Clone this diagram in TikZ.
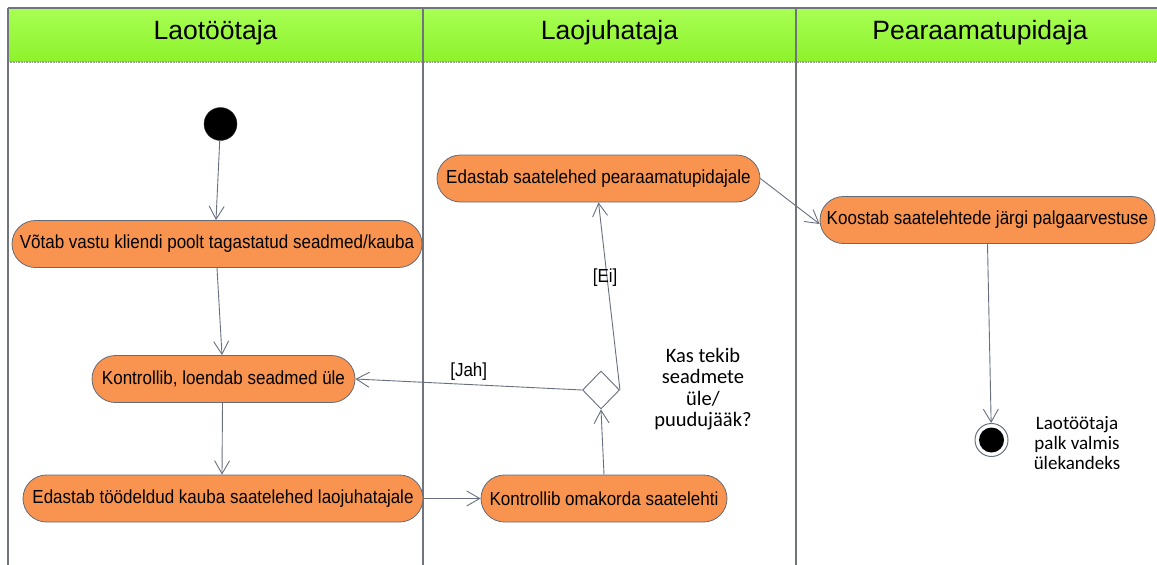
\documentclass[tikz,border=0pt]{standalone}
\usepackage{fontspec}
\setmainfont{Liberation Sans}
\newfontfamily\actfont{Liberation Sans}[FakeStretch=0.9]
\newfontfamily\notefont{Carlito}
\usetikzlibrary{arrows.meta,shapes.geometric}

\definecolor{hdrtop}{RGB}{168,255,84}
\definecolor{hdrbot}{RGB}{142,242,44}
\definecolor{lanegray}{RGB}{112,116,124}
\definecolor{actfill}{RGB}{248,148,79}
\definecolor{actborder}{RGB}{100,106,118}
\definecolor{flowgray}{RGB}{104,112,128}

\begin{document}
\begin{tikzpicture}[x=1pt,y=-1pt,
  act/.style={draw=actborder, line width=0.8pt, fill=actfill,
    rounded corners=23.5pt, minimum height=47pt, inner sep=0pt,
    font=\actfont\fontsize{18.9}{21}\selectfont},
  flow/.style={draw=flowgray, line width=0.9pt,
    -{Straight Barb[length=13pt,width=15pt]}},
  lanehead/.style={font=\fontsize{26.5}{30}\selectfont},
  guard/.style={font=\actfont\fontsize{18.9}{21}\selectfont, inner sep=1pt},
  note/.style={align=center, font=\notefont\fontsize{20.5}{21.5}\selectfont}]

\useasboundingbox (0,0) rectangle (1157,565);
\fill[white] (0,0) rectangle (1157,565);

% swimlane header band
\shade[top color=hdrtop, bottom color=hdrbot] (8,8) rectangle (1160,61);
\draw[lanegray, line width=1.2pt] (1160,8) -- (8,8);
\draw[gray!75, line width=2pt, dash pattern=on 1pt off 0.6pt] (8,62) -- (1160,62);

% lane borders
\draw[lanegray, line width=1.2pt] (8,8) -- (8,565);
\draw[lanegray, line width=1.2pt] (423,8) -- (423,565);
\draw[lanegray, line width=1.2pt] (796,8) -- (796,565);

% lane titles
\node[lanehead] (h1) at (215.5,33) {Laotöötaja};
\node[lanehead] (h2) at (609.5,33) {Laojuhataja};
\node[lanehead] (h3) at (980,33) {Pearaamatupidaja};

% start / end
\node[circle, fill=black, draw=black!80, minimum size=33pt, inner sep=0pt] (start) at (220.5,124) {};
\node[circle, draw=flowgray, line width=1pt, fill=white, minimum size=33pt, inner sep=0pt] (end) at (991.5,440) {};
\fill[black] (end.center) circle (12.5pt);

% activities
\node[act, minimum width=410pt] (n1) at (217,244) {Võtab vastu kliendi poolt tagastatud seadmed/kauba};
\node[act, minimum width=263pt] (n2) at (223.5,379) {Kontrollib, loendab seadmed üle};
\node[act, minimum width=400pt] (n3) at (223,498.5) {Edastab töödeldud kauba saatelehed laojuhatajale};
\node[act, minimum width=246pt] (n4) at (604,498.5) {Kontrollib omakorda saatelehti};
\node[act, minimum width=323pt] (n5) at (598.5,178.5) {Edastab saatelehed pearaamatupidajale};
\node[act, minimum width=335pt] (n6) at (987.5,220) {Koostab saatelehtede järgi palgaarvestuse};

% decision
\node[diamond, draw=flowgray, line width=0.9pt, fill=white, minimum width=37pt, minimum height=38pt, inner sep=0pt] (d) at (601,390) {};

% notes
\node[note] (q) at (703,389) {Kas tekib\\seadmete\\üle/\\puudujääk?};
\node[note, font=\notefont\fontsize{19}{20}\selectfont] (fin) at (1077,443) {Laotöötaja\\palk valmis\\ülekandeks};

% control flow
\draw[flow] (start) -- ([xshift=-1pt]n1.north);
\draw[flow] (n1.south) -- ([xshift=-1.5pt]n2.north);
\draw[flow] ([xshift=-1pt]n2.south) -- ([xshift=-1pt]n3.north);
\draw[flow] (n3.east) -- (n4.west);
\draw[flow] (n4.north) -- (d.south);
\draw[flow] (d.west) -- (n2.east) node[guard, pos=0.5, above=3pt] (jah) {[Jah]};
\draw[flow] (d.east) -- (n5.south) node[guard, pos=0.6, xshift=-2pt] (ei) {[Ei]};
\draw[flow] (n5.east) -- ([yshift=-4pt]n6.west);
\draw[flow] (n6.south) -- (end);
\end{tikzpicture}
\end{document}
